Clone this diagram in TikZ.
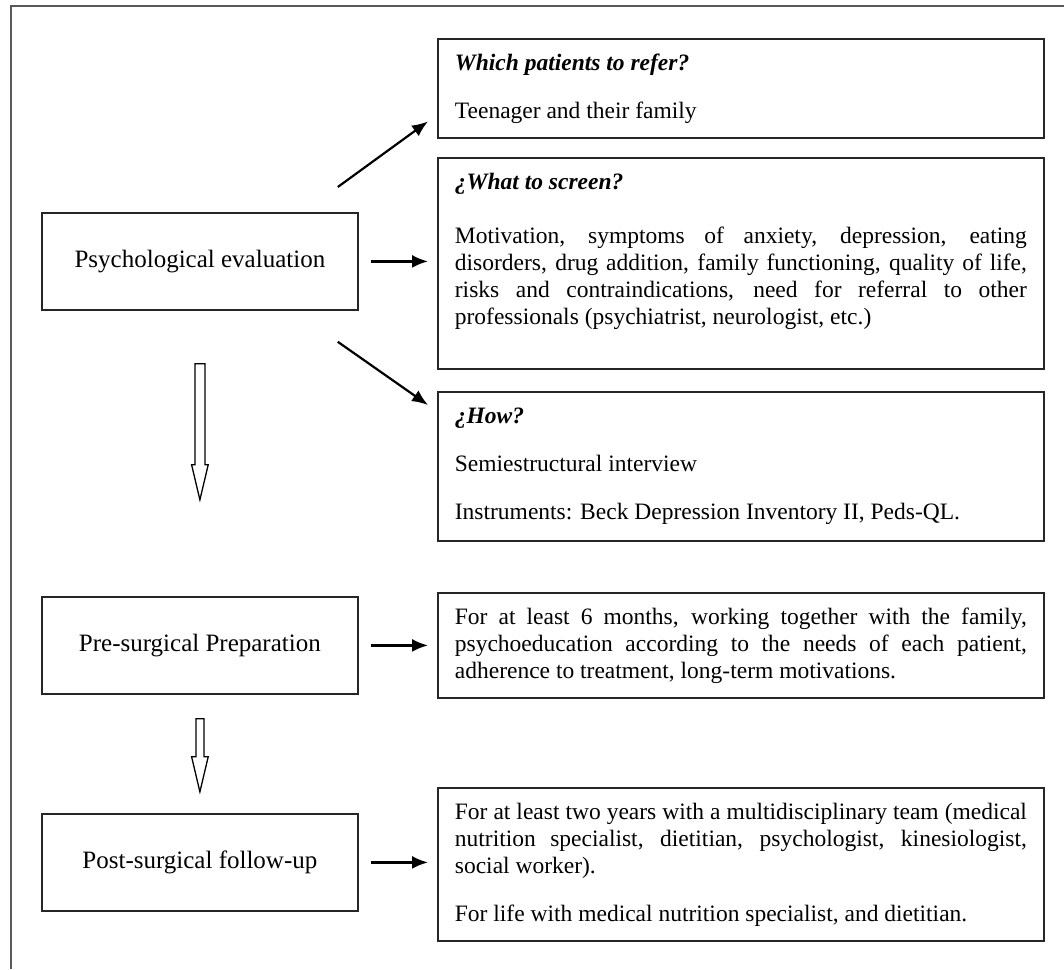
\documentclass[tikz,border=0pt]{standalone}
\usepackage{fontspec}
\setmainfont{Liberation Serif}
\usetikzlibrary{arrows.meta}
\newcommand\rfont{\fontsize{23.5}{27}\selectfont\tolerance=10000\hyphenpenalty=10000\relax}
\newcommand\lfont{\fontsize{25}{29}\selectfont}
\newcommand\ttl[1]{{\bfseries\itshape #1}}
\tikzset{
  rbox/.style={draw=black!85, line width=1.8pt, anchor=north west, text width=572pt,
    inner xsep=17pt, inner ysep=0pt, align=justify, font=\rfont, text height=32pt},
  lbox/.style={draw=black!85, line width=1.8pt, anchor=north west, minimum width=316pt,
    minimum height=97pt, inner sep=0pt, font=\lfont},
  thinarrow/.style={-{Latex[length=16pt,width=13pt]}, line width=2.2pt},
  hollow/.style={draw=black, line width=1.3pt, fill=white, line join=miter},
  framepen/.style={draw=black!65, line width=2pt}
}
\begin{document}
\begin{tikzpicture}[x=1pt,y=-1pt]
\useasboundingbox (0,0) rectangle (1064,969);
% outer frame (top and left edges only)
\draw[framepen] (11,969) -- (11,6) -- (1064,6);

% left column
\node[lbox] (psych) at (41,212) {Psychological evaluation};
\node[lbox] (pre)   at (41,596) {Pre-surgical Preparation};
\node[lbox] (post)  at (41,813) {Post-surgical follow-up};

% right column
\node[rbox, text depth=67pt] (refer) at (437,38)
  {\ttl{Which patients to refer?}\par\vspace{21pt}Teenager and their family};
\node[rbox, text depth=179pt] (screen) at (437,157)
  {\ttl{¿What to screen?}\par\vspace{27pt}Motivation, symptoms of anxiety, depression, eating\linebreak
   disorders, drug addition, family functioning, quality of life,\linebreak
   risks and contraindications, need for referral to other\linebreak
   professionals (psychiatrist, neurologist, etc.)};
\node[rbox, text depth=117pt] (how) at (437,391)
  {\ttl{¿How?}\par\vspace{21pt}Semiestructural interview\par\vspace{21pt}Instruments: Beck Depression Inventory II, Peds-QL.};
\node[rbox, text depth=73pt] (prep) at (437,592)
  {For at least 6 months, working together with the family,\linebreak
   psychoeducation according to the needs of each patient,\linebreak
   adherence to treatment, long-term motivations.};
\node[rbox, text depth=121pt] (follow) at (437,787)
  {For at least two years with a multidisciplinary team (medical\linebreak
   nutrition specialist, dietitian, psychologist, kinesiologist,\linebreak
   social worker).\par\vspace{21pt}For life with medical nutrition specialist, and dietitian.};

% thin arrows
\draw[thinarrow] ([shift={(-21,-25)}]psych.north east) -- ([shift={(-9,33)}]refer.west);
\draw[thinarrow] ([xshift=12pt]psych.east) -- ([xshift=-9pt]psych.east -| screen.west);
\draw[thinarrow] ([shift={(-21,31)}]psych.south east) -- ([shift={(-9,14)}]how.north west);
\draw[thinarrow] ([xshift=12pt]pre.east) -- ([xshift=-9pt]pre.east -| prep.west);
\draw[thinarrow] ([xshift=12pt]post.east) -- ([xshift=-9pt]post.east -| follow.west);

% hollow block arrows
\coordinate (h1) at ([shift={(0,53)}]psych.south);
\draw[hollow] (h1) ++(-5,0) -- ++(0,101) -- ++(-3.3,0) -- ++(8.3,35) -- ++(8.3,-35)
  -- ++(-3.3,0) -- ++(0,-101) -- cycle;
\coordinate (h2) at ([shift={(0,24)}]pre.south);
\draw[hollow] (h2) ++(-4,0) -- ++(0,38) -- ++(-4.3,0) -- ++(8.3,35) -- ++(8.3,-35)
  -- ++(-4.3,0) -- ++(0,-38) -- cycle;
\end{tikzpicture}
\end{document}
